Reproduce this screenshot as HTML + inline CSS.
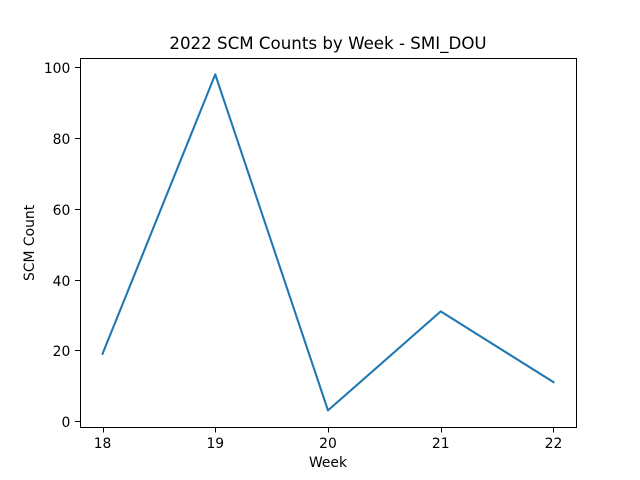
<!DOCTYPE html>
<html>
<head>
<meta charset="utf-8">
<title>2022 SCM Counts by Week - SMI_DOU</title>
<style>
html,body{margin:0;padding:0;background:#fff;width:640px;height:480px;overflow:hidden}
svg{display:block}
text{font-family:"DejaVu Sans",sans-serif;fill:#000}
</style>
</head>
<body>
<svg id="chart" xmlns="http://www.w3.org/2000/svg" width="640" height="480" viewBox="0 0 640 480">
  <rect x="0" y="0" width="640" height="480" fill="#fff"/>
  <rect x="80" y="57.6" width="496" height="369.6" fill="#fff"/>
  <g id="ticks"></g>
  <polyline id="line" fill="none" stroke="#1f77b4" stroke-width="2.083" stroke-linejoin="round" stroke-linecap="square"/>
  <rect x="80.5" y="58.5" width="496" height="369" fill="none" stroke="#000" stroke-width="1.111" shape-rendering="crispEdges"/>
  <text x="328" y="49" font-size="16.67" text-anchor="middle">2022 SCM Counts by Week - SMI_DOU</text>
  <text x="328" y="467" font-size="13.89" text-anchor="middle">Week</text>
  <text transform="translate(34,242.9) rotate(-90)" font-size="13.89" text-anchor="middle">SCM Count</text>
</svg>
<script>
const weeks = [18, 19, 20, 21, 22];
const counts = [19, 98, 3, 31, 11];
const xTickLabels = [18, 19, 20, 21, 22];
const yTickLabels = [0, 20, 40, 60, 80, 100];

const NS = 'http://www.w3.org/2000/svg';
const plot = {left: 80, right: 576, top: 57.6, bottom: 427.2};

function extent(values) {
  const lo = Math.min.apply(null, values);
  const hi = Math.max.apply(null, values);
  const pad = (hi - lo) * 0.05;
  return [lo - pad, hi + pad];
}
const xDomain = extent(weeks);
const yDomain = extent(counts);

function xScale(v) {
  return plot.left + (v - xDomain[0]) / (xDomain[1] - xDomain[0]) * (plot.right - plot.left);
}
function yScale(v) {
  return plot.bottom - (v - yDomain[0]) / (yDomain[1] - yDomain[0]) * (plot.bottom - plot.top);
}
function snap(p) {
  return Math.floor(p + 0.5) + 0.5;
}

const line = document.getElementById('line');
line.setAttribute('points', weeks.map(function (w, i) {
  return xScale(w).toFixed(2) + ',' + yScale(counts[i]).toFixed(2);
}).join(' '));

const ticks = document.getElementById('ticks');

xTickLabels.forEach(function (t) {
  const x = xScale(t);
  const mark = document.createElementNS(NS, 'line');
  
  
  mark.setAttribute('x1', snap(x));
  mark.setAttribute('x2', snap(x));
  mark.setAttribute('y1', plot.bottom);
  mark.setAttribute('y2', plot.bottom + 5.3);
  mark.setAttribute('stroke', '#000');
  mark.setAttribute('stroke-width', '1.111');
  mark.setAttribute('shape-rendering', 'crispEdges');
  ticks.appendChild(mark);
  const label = document.createElementNS(NS, 'text');
  
  
  label.setAttribute('x', x);
  label.setAttribute('y', 448);
  label.setAttribute('font-size', '13.89');
  label.setAttribute('text-anchor', 'middle');
  label.textContent = t;
  ticks.appendChild(label);
});

yTickLabels.forEach(function (t) {
  const y = yScale(t);
  const mark = document.createElementNS(NS, 'line');
  
  
  mark.setAttribute('x1', plot.left - 4.86);
  mark.setAttribute('x2', plot.left);
  mark.setAttribute('y1', snap(y));
  mark.setAttribute('y2', snap(y));
  mark.setAttribute('stroke', '#000');
  mark.setAttribute('stroke-width', '1.111');
  mark.setAttribute('shape-rendering', 'crispEdges');
  ticks.appendChild(mark);
  const label = document.createElementNS(NS, 'text');
  
  
  label.setAttribute('x', 70.3);
  label.setAttribute('y', Math.floor(y + 0.5) + 6);
  label.setAttribute('font-size', '13.89');
  label.setAttribute('text-anchor', 'end');
  label.textContent = t;
  ticks.appendChild(label);
});
</script>
</body>
</html>
